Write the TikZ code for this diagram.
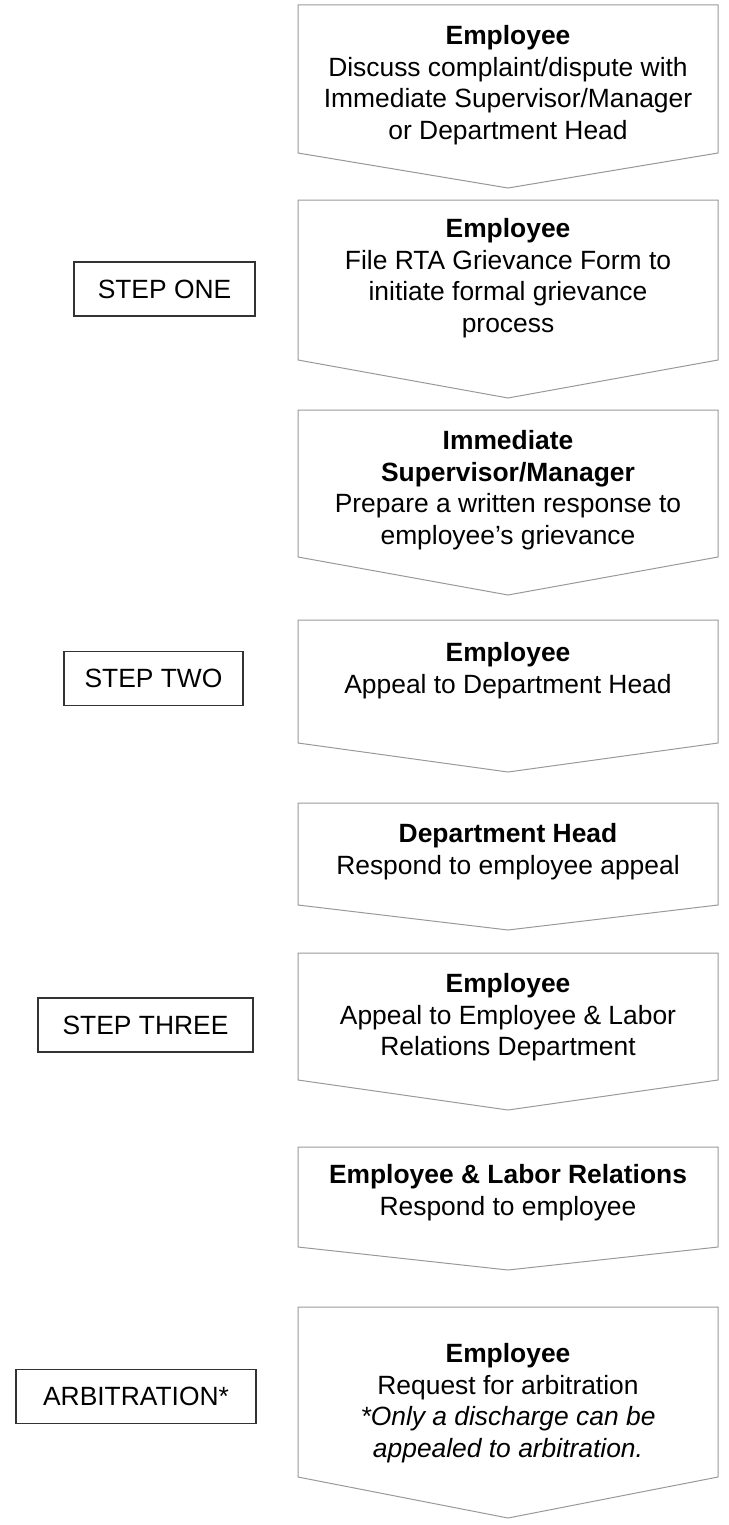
\documentclass[tikz,border=0pt]{standalone}
\usepackage{fontspec}
\setmainfont{Liberation Sans}
\usetikzlibrary{positioning}

\begin{document}
\begin{tikzpicture}[x=0.5pt, y=-0.5pt,
    chev/.style={%
      draw=black!40, line width=0.5pt, line join=miter
    },
    txt/.style={%
      anchor=north, inner sep=0pt, align=center,
      font=\fontsize{13.2}{15.85}\selectfont
    },
    stepbox/.style={%
      rectangle, draw=black!80, line width=0.9pt,
      minimum height=27pt, inner sep=0pt,
      font=\fontsize{13.2}{15.85}\selectfont
    }
]
    \useasboundingbox (0,0) rectangle (728,1525);

    % the chevrons down the right side
    \draw[chev] (298,5)    -- (718,5)    -- (718,153)  -- (508,188)  -- (298,153)  -- cycle;
    \draw[chev] (298,200)  -- (718,200)  -- (718,360)  -- (508,398)  -- (298,360)  -- cycle;
    \draw[chev] (298,410)  -- (718,410)  -- (718,557)  -- (508,595)  -- (298,557)  -- cycle;
    \draw[chev] (298,620)  -- (718,620)  -- (718,743)  -- (508,772)  -- (298,743)  -- cycle;
    \draw[chev] (298,803)  -- (718,803)  -- (718,905)  -- (508,930)  -- (298,905)  -- cycle;
    \draw[chev] (298,953)  -- (718,953)  -- (718,1080) -- (508,1110) -- (298,1080) -- cycle;
    \draw[chev] (298,1147) -- (718,1147) -- (718,1247) -- (508,1270) -- (298,1247) -- cycle;
    \draw[chev] (298,1307) -- (718,1307) -- (718,1477) -- (508,1518) -- (298,1477) -- cycle;

    \node[txt] (t1) at (508,25)   {\textbf{Employee}\\Discuss complaint/dispute with\\Immediate Supervisor/Manager\\or Department Head};
    \node[txt] (t2) at (508,218)  {\textbf{Employee}\\File RTA Grievance Form to\\initiate formal grievance\\process};
    \node[txt] (t3) at (508,430)  {\textbf{Immediate}\\\textbf{Supervisor/Manager}\\Prepare a written response to\\employee’s grievance};
    \node[txt] (t4) at (508,642)  {\textbf{Employee}\\Appeal to Department Head};
    \node[txt] (t5) at (508,823)  {\textbf{Department Head}\\Respond to employee appeal};
    \node[txt] (t6) at (508,973)  {\textbf{Employee}\\Appeal to Employee \& Labor\\Relations Department};
    \node[txt] (t7) at (508,1164) {\textbf{Employee \& Labor Relations}\\Respond to employee};
    \node[txt] (t8) at (508,1343) {\textbf{Employee}\\Request for arbitration\\\textit{*Only a discharge can be}\\\textit{appealed to arbitration.}};

    % step labels on the left
    \node[stepbox, minimum width=90.5pt]  (one)   at (164.5,289)  {STEP ONE};
    \node[stepbox, minimum width=89.5pt]  (two)   at (153.5,678.5) {STEP TWO};
    \node[stepbox, minimum width=107.5pt] (three) at (145.5,1025) {STEP THREE};
    \node[stepbox, minimum width=120pt]   (arb)   at (136,1396.5) {ARBITRATION*};
\end{tikzpicture}
\end{document}
